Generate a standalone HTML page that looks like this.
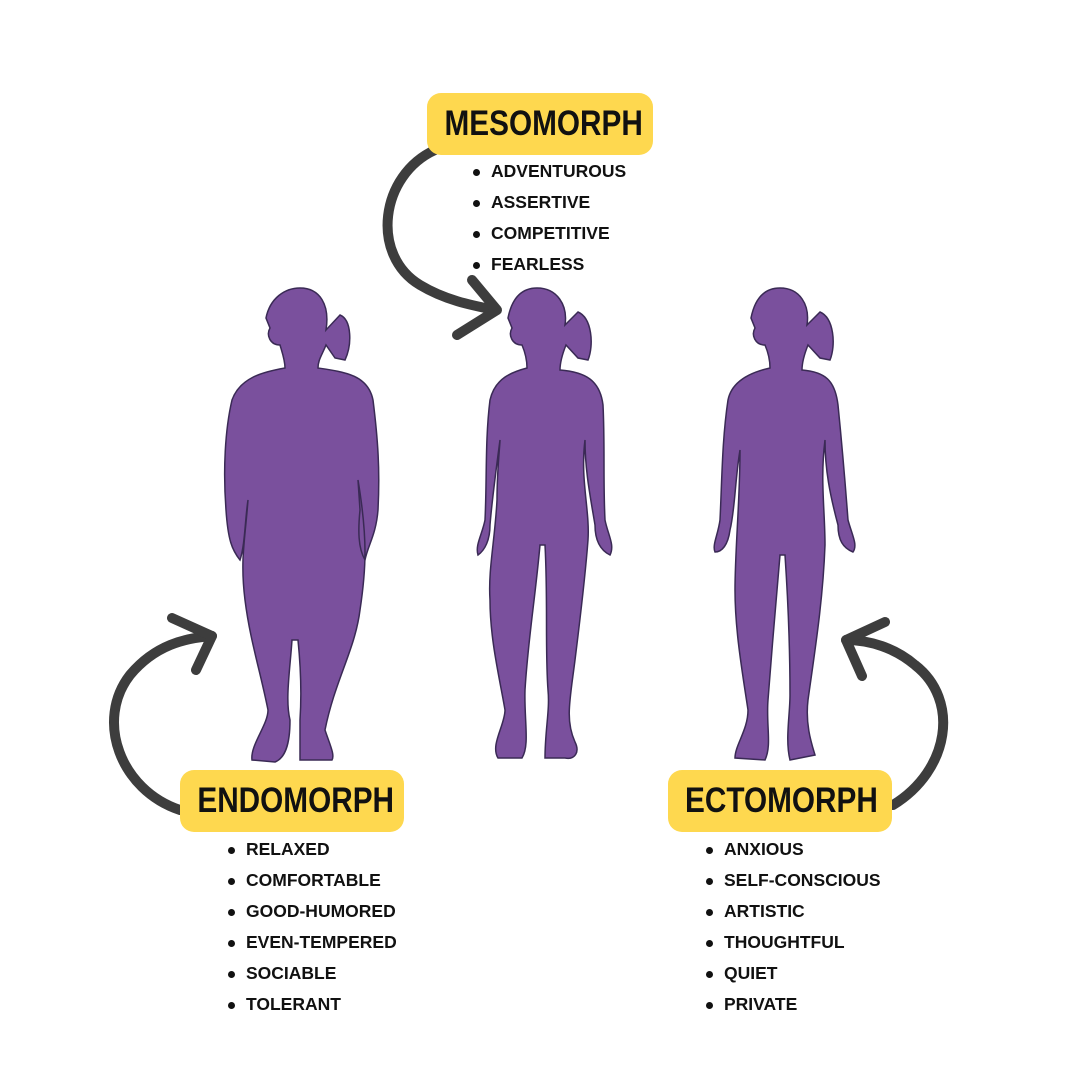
<!DOCTYPE html>
<html><head><style>
body{margin:0;width:1080px;height:1080px;background:#fff;position:relative;overflow:hidden;font-family:"Liberation Sans",sans-serif;}
.box{position:absolute;background:#fed84f;border-radius:14px;font-weight:bold;font-size:35px;color:#111;text-align:center;line-height:62px;height:62px;}
.box span{display:inline-block;transform:scaleX(0.85);}
ul{position:absolute;margin:0;padding:0;list-style:none;font-weight:bold;font-size:17.5px;color:#111;}
li{height:31px;line-height:31px;position:relative;padding-left:18px;}
li:before{content:"";position:absolute;left:0;top:13px;width:7px;height:7px;border-radius:50%;background:#111;}
svg{position:absolute;left:0;top:0;}
</style></head><body>
<svg width="1080" height="1080" viewBox="0 0 1080 1080">
<g fill="none" stroke="#3d3d3d" stroke-width="10" stroke-linecap="round" stroke-linejoin="round">
<path d="M435 150 C380 175 370 255 420 285 C445 300 470 305 495 310"/>
<path d="M472 280 L497 310 L457 335"/>
<path d="M180 810 C120 790 95 720 130 675 C155 645 185 638 212 636"/>
<path d="M172 618 L212 636 L196 670"/>
<path d="M893 805 C950 770 960 700 915 665 C895 648 870 640 846 640"/>
<path d="M885 622 L846 640 L862 676"/>
</g>
<g fill="#7a509d" stroke="#3a2a55" stroke-width="1.5">
<path d="M300 288 C320 288 330 305 326 330 L340 315 C352 320 352 345 345 360 L335 358 L326 345 C322 355 318 360 318 368 C345 372 368 375 373 400 C378 440 380 470 378 510 C376 535 368 545 365 560 C358 548 358 530 360 510 L358 480 C368 540 366 570 360 610 C355 650 335 680 325 730 C330 745 335 755 332 760 L300 760 L300 720 C302 690 300 660 298 640 L292 640 C290 670 285 700 290 720 C290 745 285 758 275 762 L252 760 C250 745 268 725 268 710 C260 670 250 640 245 600 C240 560 245 540 248 500 C245 520 245 545 240 560 C232 550 228 540 226 510 C223 470 225 430 232 400 C240 378 262 372 285 368 C285 360 282 352 280 345 C270 345 266 335 270 328 L266 318 C270 298 285 288 300 288Z"/>
<path d="M537 288 C557 288 568 305 565 325 L578 312 C592 318 594 345 588 360 L578 358 L566 345 C562 355 560 362 560 370 C585 372 600 380 603 405 C605 445 603 480 605 520 C608 535 615 545 610 555 C600 550 595 540 595 525 C590 495 585 470 585 440 C580 480 590 510 588 540 C585 580 580 620 575 660 C570 700 565 720 575 742 C580 752 575 760 565 758 L545 758 C545 730 550 710 548 690 C545 650 548 600 545 545 L540 545 C535 600 528 640 525 690 C524 720 530 745 522 758 L498 758 C490 745 505 725 505 710 C500 680 490 640 490 600 C488 570 495 540 497 500 C497 470 500 445 500 440 C496 470 492 500 490 525 C490 540 485 550 478 555 C475 545 482 535 485 520 C487 480 485 440 490 400 C495 378 512 372 527 368 C527 360 525 352 522 345 C512 345 508 335 512 328 L508 318 C512 298 522 288 537 288Z"/>
<path d="M780 288 C800 288 810 305 807 325 L820 312 C834 318 836 345 830 360 L820 358 L808 345 C804 355 802 362 802 370 C825 372 835 380 838 405 C842 445 845 480 848 520 C852 535 858 545 853 552 C843 548 838 540 838 525 C830 495 825 470 825 440 C820 480 825 510 825 545 C823 600 815 650 808 700 C805 725 812 745 815 755 L790 760 C785 740 790 715 790 695 C790 650 788 600 785 555 L780 555 C775 610 772 650 768 700 C766 725 772 745 765 760 L735 758 C735 745 748 730 748 710 C742 670 735 630 735 590 C735 550 740 500 740 450 C735 480 735 510 730 530 C728 545 722 552 715 552 C712 545 718 535 720 520 C722 480 722 440 728 400 C732 380 752 372 770 368 C770 360 768 352 765 345 C755 345 751 335 755 328 L751 318 C755 298 765 288 780 288Z"/>
</g>
</svg>
<div class="box" style="left:427px;top:93px;width:226px;"><span>MESOMORPH</span></div>
<div class="box" style="left:180px;top:770px;width:224px;"><span>ENDOMORPH</span></div>
<div class="box" style="left:668px;top:770px;width:224px;"><span>ECTOMORPH</span></div>
<ul style="left:473px;top:156px;"><li>ADVENTUROUS</li><li>ASSERTIVE</li><li>COMPETITIVE</li><li>FEARLESS</li></ul>
<ul style="left:228px;top:834px;"><li>RELAXED</li><li>COMFORTABLE</li><li>GOOD-HUMORED</li><li>EVEN-TEMPERED</li><li>SOCIABLE</li><li>TOLERANT</li></ul>
<ul style="left:706px;top:834px;"><li>ANXIOUS</li><li>SELF-CONSCIOUS</li><li>ARTISTIC</li><li>THOUGHTFUL</li><li>QUIET</li><li>PRIVATE</li></ul>
</body></html>
